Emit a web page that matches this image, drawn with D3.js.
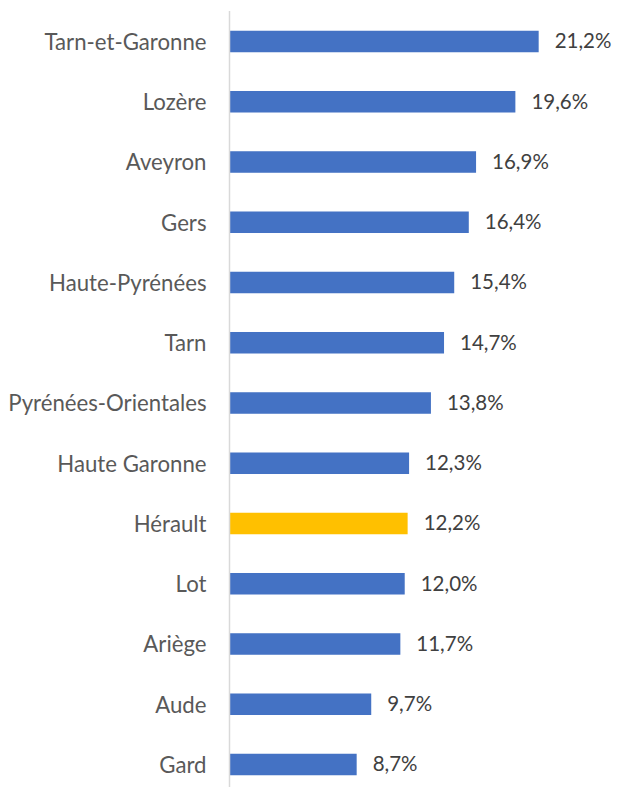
<!DOCTYPE html>
<html>
<head>
<meta charset="utf-8">
<script src="https://cdn.jsdelivr.net/npm/d3@7/dist/d3.min.js"></script>
<style>
  html, body { margin: 0; padding: 0; background: #fff; }
  svg { display: block; }
</style>
</head>
<body>
<svg id="chart" width="617" height="787"></svg>
<script>
const categories = ["Tarn-et-Garonne", "Lozère", "Aveyron", "Gers", "Haute-Pyrénées", "Tarn",
  "Pyrénées-Orientales", "Haute Garonne", "Hérault", "Lot", "Ariège", "Aude", "Gard"];
const values = [21.2, 19.6, 16.9, 16.4, 15.4, 14.7, 13.8, 12.3, 12.2, 12.0, 11.7, 9.7, 8.7];
const highlighted = ["Hérault"];
const valueLabels = values.map(v => v.toFixed(1).replace(".", ",") + "%");

const W = 617, H = 787;
const svg = d3.select("#chart");

const x = d3.scaleLinear().domain([0, 22]).range([230, 230 + 22 * 14.56]);
const y = d3.scaleBand().domain(categories).range([11.375, 794.625])
  .paddingInner(0.643).paddingOuter(0.3215);

const data = categories.map((c, i) => ({ c, v: values[i], label: valueLabels[i] }));

// bars
svg.append("g").selectAll("rect").data(data).join("rect")
  .attr("x", x(0))
  .attr("y", d => y(d.c))
  .attr("width", d => x(d.v) - x(0))
  .attr("height", y.bandwidth())
  .attr("fill", d => highlighted.includes(d.c) ? "#FFC000" : "#4472C4");

// category axis line
svg.append("line")
  .attr("x1", 229.5).attr("x2", 229.5)
  .attr("y1", 11).attr("y2", H)
  .attr("stroke", "#d9d9d9").attr("stroke-width", 1.5);

// category labels
const yAxis = d3.axisLeft(y).tickSize(0).tickPadding(23);
const gy = svg.append("g").attr("transform", "translate(229.5,0)").call(yAxis);
gy.select(".domain").remove();
gy.selectAll("text")
  .attr("dy", "0.38em")
  .attr("font-family", "Lato, 'Open Sans', sans-serif")
  .attr("font-size", 22.2)
  .attr("fill", "#595959");

// value labels
svg.append("g").selectAll("text").data(data).join("text")
  .attr("x", d => x(d.v) + 16)
  .attr("y", d => y(d.c) + y.bandwidth() / 2)
  .attr("dy", "0.34em")
  .attr("font-family", "Lato, 'Open Sans', sans-serif")
  .attr("font-size", 20.5)
  .attr("fill", "#404040")
  .text(d => d.label);
</script>
</body>
</html>
